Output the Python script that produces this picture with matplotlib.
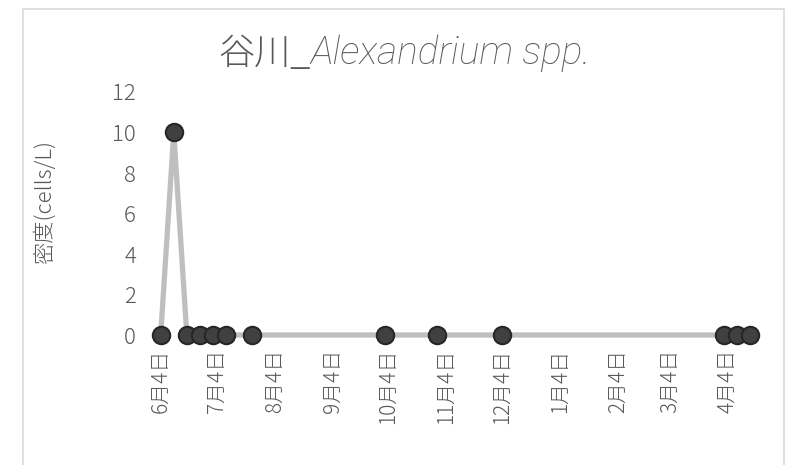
import matplotlib
matplotlib.use("Agg")
from matplotlib import pyplot as plt
from matplotlib import font_manager
import matplotlib.dates as mdates
import pandas as pd
from matplotlib.patches import Rectangle

# データ
sample_dates = ["2018-06-04", "2018-06-11", "2018-06-18", "2018-06-25",
                "2018-07-02", "2018-07-09", "2018-07-23", "2018-10-02",
                "2018-10-30", "2018-12-04", "2019-04-02", "2019-04-09",
                "2019-04-16"]
density = [0, 10, 0, 0, 0, 0, 0, 0, 0, 0, 0, 0, 0]
tick_dates = ["2018-06-04", "2018-07-04", "2018-08-04", "2018-09-04",
              "2018-10-04", "2018-11-04", "2018-12-04", "2019-01-04",
              "2019-02-04", "2019-03-04", "2019-04-04"]
y_ticks = [0, 2, 4, 6, 8, 10, 12]

title_jp = "谷川_"
title_sp = "Alexandrium spp."
y_label = "密度(cells/L)"

plt.rcParams['font.family'] = ['Noto Sans CJK JP', 'DejaVu Sans']
plt.rcParams['font.weight'] = 'light'
names = {f.name for f in font_manager.fontManager.ttflist}
lat = 'Liberation Sans Narrow' if 'Liberation Sans Narrow' in names else 'Roboto'

txt = '#595959'
W, H = 796, 465
fig = plt.figure(figsize=(W / 100, H / 100), dpi=100)

# 外枠
fig.patches.append(Rectangle((23 / W, -0.05), (784 - 23) / W, (465 - 9) / H + 0.05,
                             transform=fig.transFigure, fill=False,
                             edgecolor='#D9D9D9', lw=1.2))

x0, x1 = 150, 765
y0, y1 = 335, 92
ax = fig.add_axes([x0 / W, (H - y0) / H, (x1 - x0) / W, (y0 - y1) / H])

d = pd.to_datetime(sample_dates)
ax.plot(d, density, color='#BFBFBF', lw=3.8, marker='o', markersize=12.5,
        markerfacecolor='#404040', markeredgecolor='#262626', markeredgewidth=1.5,
        clip_on=False, zorder=3)

# x軸の範囲 (1.866 px/日)
start = pd.Timestamp("2018-06-04")
ppd = 1.866
ax.set_xlim(mdates.date2num(start) - (160.7 - x0) / ppd,
            mdates.date2num(start) + (x1 - 160.7) / ppd)
ax.set_ylim(0, 12)

td = pd.to_datetime(tick_dates)
ax.set_xticks(td)
ax.set_xticklabels([f"{t.month}月{t.day}日" for t in td], rotation=90,
                   fontsize=15, color=txt, fontweight='light')
ax.set_yticks(y_ticks)
ax.set_yticklabels([str(v) for v in y_ticks], fontsize=16, color=txt,
                   fontweight='light')
ax.tick_params(axis='x', length=0, pad=10)
ax.tick_params(axis='y', length=0, pad=10)
for s in ax.spines.values():
    s.set_visible(False)

fig.text(45 / W, (H - 202) / H, y_label, rotation=90, ha='center', va='center',
         fontsize=16, color=txt, fontweight='light')

# タイトル (2つに分けて斜体を混ぜる)
r = fig.canvas.get_renderer()
t1 = fig.text(0, 0, title_jp, fontsize=26, color=txt, fontweight='light')
t2 = fig.text(0, 0, title_sp, fontsize=28, color=txt, family=[lat, 'DejaVu Sans'],
              style='italic', fontweight='light')
w1 = t1.get_window_extent(r).width
w2 = t2.get_window_extent(r).width
cx = 405
left = cx - (w1 + w2) / 2
base = H - 64
t1.set_position((left / W, base / H))
t2.set_position(((left + w1) / W, base / H))

fig.savefig("out.png", dpi=100)
